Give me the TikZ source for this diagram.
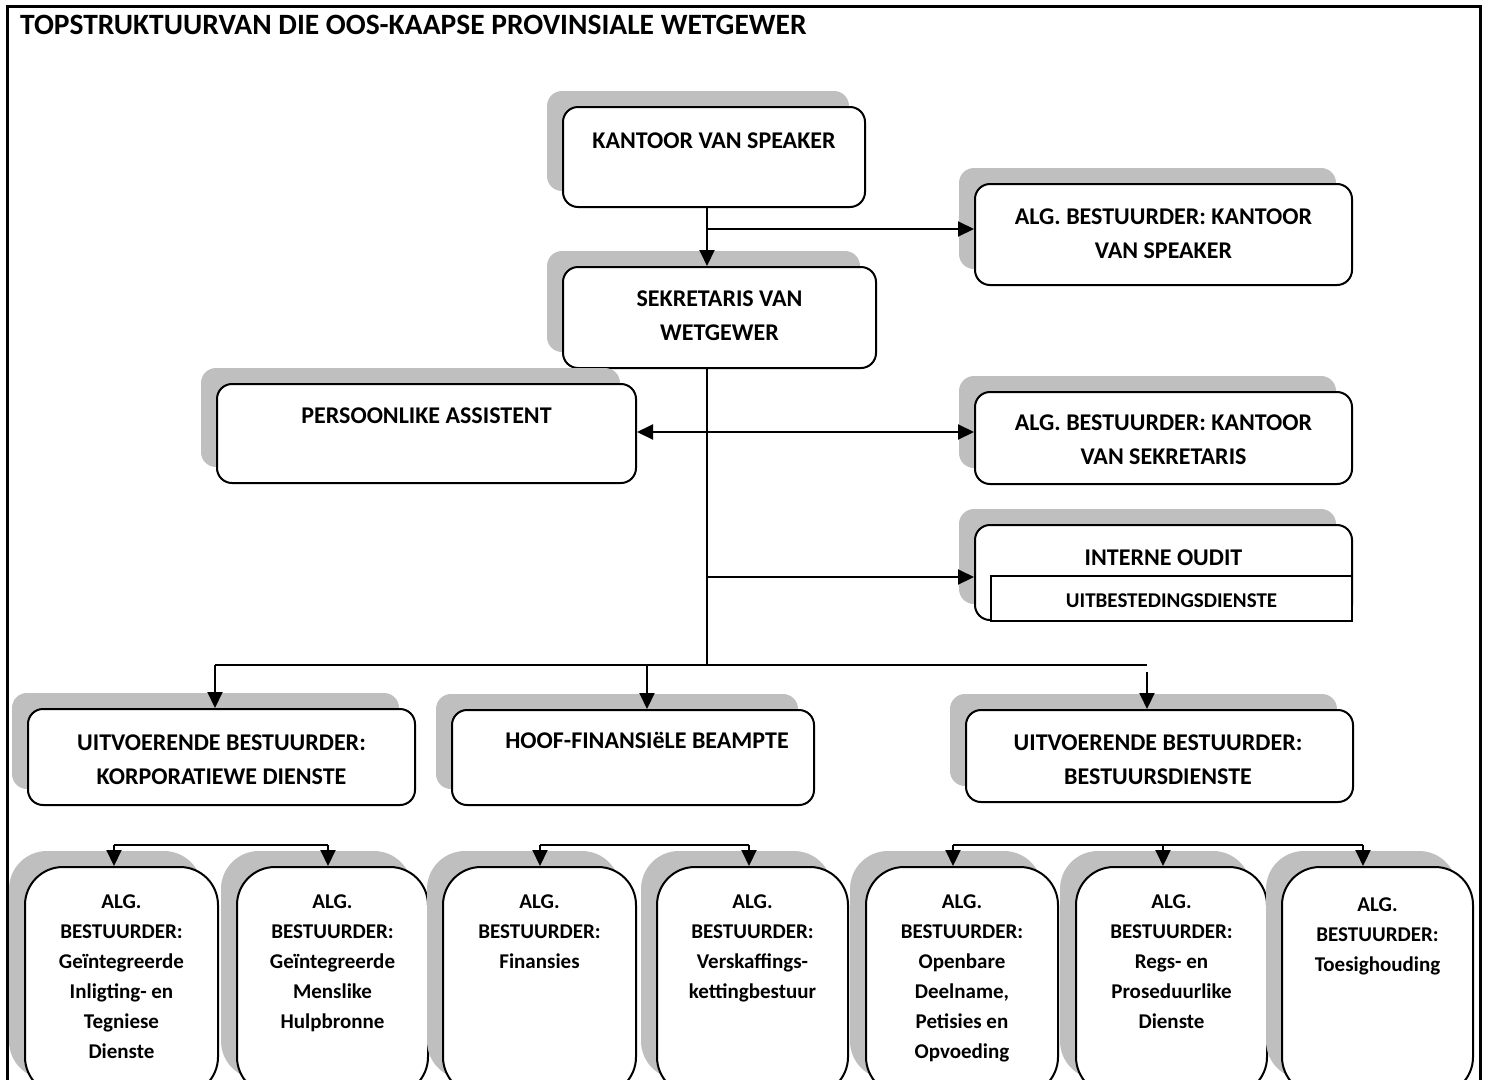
\documentclass[tikz,border=0pt]{standalone}
\usepackage{fontspec}
\setmainfont{Carlito}
\usetikzlibrary{arrows.meta,shadows}
\definecolor{shd}{HTML}{BFBFBF}
\tikzset{
  x=1pt, y=-1pt,
  box/.style={draw, line width=2pt, rounded corners=15pt, fill=white, inner sep=0pt,
    general shadow={fill=shd, draw=none, shadow xshift=-16pt, shadow yshift=16pt}},
  bigbox/.style={box, rounded corners=38pt},
  plainrect/.style={draw, line width=2pt, fill=white, inner sep=0pt, sharp corners},
  lbl/.style={anchor=north, inner sep=0pt, align=center, font=\bfseries\fontsize{24}{34}\selectfont},
  slbl/.style={anchor=north, inner sep=0pt, align=center, font=\bfseries\fontsize{21}{30}\selectfont},
  conn/.style={line width=2pt},
  arr/.style={line width=2pt, -{Triangle[width=15pt,length=16pt]}},
  arrb/.style={line width=2pt, {Triangle[width=15pt,length=16pt]}-{Triangle[width=15pt,length=16pt]}},
}
\begin{document}
\begin{tikzpicture}
\clip (0,0) rectangle (1487,1079);
\fill[white] (0,0) rectangle (1487,1079);

% frame
\draw[line width=3pt] (7,1100) -- (7,6) -- (1480,6) -- (1480,1100);
\node[anchor=west, inner sep=0pt, font=\bfseries\fontsize{29.5}{35}\selectfont] (title) at (20,25) {TOPSTRUKTUURVAN DIE OOS-KAAPSE PROVINSIALE WETGEWER};

% boxes
\node[box, minimum width=302pt, minimum height=100pt] (spk) at (714,157) {};
\node[box, minimum width=313pt, minimum height=101pt] (sek) at (719.5,317.5) {};
\node[box, minimum width=377pt, minimum height=101pt] (as) at (1163.5,234.5) {};
\node[box, minimum width=419pt, minimum height=99pt] (pa) at (426.5,433.5) {};
\node[box, minimum width=377pt, minimum height=92pt] (ag) at (1163.5,438) {};
\node[box, minimum width=377pt, minimum height=95pt] (io) at (1163.5,572.5) {};
\node[plainrect, minimum width=361pt, minimum height=45pt] (iu) at (1171.5,598.5) {};
\node[box, minimum width=387pt, minimum height=96pt] (ek) at (221.5,757) {};
\node[box, minimum width=362pt, minimum height=95pt] (hf) at (633,757.5) {};
\node[box, minimum width=387pt, minimum height=92pt] (eb) at (1159.5,756) {};

\node[bigbox, minimum width=193pt, minimum height=228pt] (b1) at (121.5,981) {};
\node[bigbox, minimum width=191pt, minimum height=228pt] (b2) at (332.5,981) {};
\node[bigbox, minimum width=193pt, minimum height=228pt] (b3) at (539.5,981) {};
\node[bigbox, minimum width=191pt, minimum height=228pt] (b4) at (752.5,981) {};
\node[bigbox, minimum width=192pt, minimum height=228pt] (b5) at (962,981) {};
\node[bigbox, minimum width=191pt, minimum height=228pt] (b6) at (1171.5,981) {};
\node[bigbox, minimum width=191pt, minimum height=228pt] (b7) at (1377.5,981) {};

% labels
\node[lbl] (tspk) at (714,132.5) {KANTOOR VAN SPEAKER};
\node[lbl] (tas) at (1163.5,209) {ALG. BESTUURDER: KANTOOR\\VAN SPEAKER};
\node[lbl] (tsek) at (719.5,290.5) {SEKRETARIS VAN\\WETGEWER};
\node[lbl] (tpa) at (426.5,407.5) {PERSOONLIKE ASSISTENT};
\node[lbl] (tag) at (1163.5,414.5) {ALG. BESTUURDER: KANTOOR\\VAN SEKRETARIS};
\node[lbl] (tio) at (1163.5,549.5) {INTERNE OUDIT};
\node[slbl] (tiu) at (1171.5,594) {UITBESTEDINGSDIENSTE};
\node[lbl] (tek) at (221.5,735) {UITVOERENDE BESTUURDER:\\KORPORATIEWE DIENSTE};
\node[lbl] (thf) at (647,732.5) {HOOF-FINANSIëLE BEAMPTE};
\node[lbl] (teb) at (1158,734.5) {UITVOERENDE BESTUURDER:\\BESTUURSDIENSTE};

\node[slbl] (tb1) at (121.5,895) {ALG.\\BESTUURDER:\\Geïntegreerde\\Inligting- en\\Tegniese\\Dienste};
\node[slbl] (tb2) at (332.5,895) {ALG.\\BESTUURDER:\\Geïntegreerde\\Menslike\\Hulpbronne};
\node[slbl] (tb3) at (539.5,895) {ALG.\\BESTUURDER:\\Finansies};
\node[slbl] (tb4) at (752.5,895) {ALG.\\BESTUURDER:\\Verskaffings-\\kettingbestuur};
\node[slbl] (tb5) at (962,895) {ALG.\\BESTUURDER:\\Openbare\\Deelname,\\Petisies en\\Opvoeding};
\node[slbl] (tb6) at (1171.5,895) {ALG.\\BESTUURDER:\\Regs- en\\Proseduurlike\\Dienste};
\node[slbl] (tb7) at (1377.5,898) {ALG.\\BESTUURDER:\\Toesighouding};

% connector coordinates
\coordinate (tx) at (707,0);
\coordinate (j1) at (707,229);
\coordinate (j2) at (707,432);
\coordinate (j3) at (707,577);
\coordinate (j4) at (707,665);
\coordinate (hL) at (215,665);
\coordinate (hM) at (647,665);
\coordinate (hR) at (1147,665);
\coordinate (hR2) at (1147,672);

% connectors
\draw[arr] (spk.south -| tx) -- (sek.north -| tx);
\draw[arr] (j1) -- (j1 -| as.west);
\draw[conn] (sek.south -| tx) -- (j4);
\draw[arrb] (j2 -| pa.east) -- (j2 -| ag.west);
\draw[arr] (j3) -- (j3 -| io.west);
\draw[conn] (hL) -- (hR);
\draw[arr] (hL) -- (hL |- ek.north);
\draw[arr] (hM) -- (hM |- hf.north);
\draw[arr] (hR2) -- (hR2 |- eb.north);

% bottom groups
\coordinate (g1a) at (114,845);
\coordinate (g1b) at (328,845);
\coordinate (g2a) at (540,845);
\coordinate (g2b) at (749,845);
\coordinate (g3a) at (953,845);
\coordinate (g3b) at (1163,845);
\coordinate (g3c) at (1363,845);
\draw[conn] (g1a) -- (g1b);
\draw[arr] (g1a) -- (g1a |- b1.north);
\draw[arr] (g1b) -- (g1b |- b2.north);
\draw[conn] (g2a) -- (g2b);
\draw[arr] (g2a) -- (g2a |- b3.north);
\draw[arr] (g2b) -- (g2b |- b4.north);
\draw[conn] (g3a) -- (g3c);
\draw[arr] (g3a) -- (g3a |- b5.north);
\draw[arr] (g3b) -- (g3b |- b6.north);
\draw[arr] (g3c) -- (g3c |- b7.north);
\end{tikzpicture}
\end{document}
